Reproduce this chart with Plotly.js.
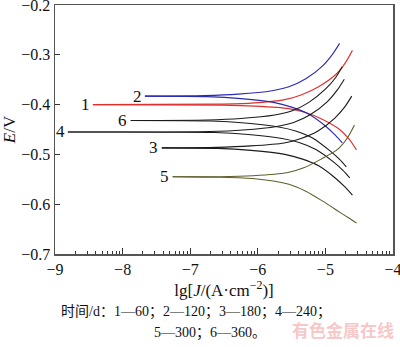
<!DOCTYPE html>
<html>
<head>
<meta charset="utf-8">
<script src="https://cdn.plot.ly/plotly-3.0.1.min.js"></script>
<style>html,body{margin:0;padding:0;background:#fff;}#chart{width:400px;height:347px;}</style>
</head>
<body>
<div id="chart"></div>
<script>
// Curve labels and colours
const curveNames = ['1', '2', '6', '4', '3', '5'];
const curveColors = ['#e0302c', '#2a2ab4', '#1a1a1a', '#1a1a1a', '#1a1a1a', '#5e5e2c'];

// Start of each flat line (lg J) and corrosion potential (E / V)
const startLg = [-8.44, -7.67, -7.88, -8.81, -7.42, -7.26];
const ecorr   = [-0.400, -0.383, -0.432, -0.455, -0.487, -0.545];

// Upper (anodic) branches: lg J and E, from the tip back toward the flat line
const upLg = [
  [-4.60, -4.70, -4.85, -5.10, -5.35, -5.60, -6.10, -6.60],
  [-4.79, -4.89, -5.04, -5.29, -5.54, -5.79, -6.29, -6.79],
  [-4.75, -4.85, -5.00, -5.25, -5.50, -5.75, -6.25, -6.75],
  [-4.72, -4.82, -4.97, -5.22, -5.47, -5.72, -6.22, -6.72],
  [-4.61, -4.71, -4.86, -5.11, -5.36, -5.61, -6.11, -6.61],
  [-4.57, -4.67, -4.82, -5.07, -5.32, -5.57, -6.07, -6.57]
];
const upE = [
  [-0.291, -0.315, -0.340, -0.364, -0.380, -0.390, -0.397, -0.399],
  [-0.277, -0.298, -0.322, -0.348, -0.364, -0.372, -0.379, -0.382],
  [-0.324, -0.346, -0.369, -0.396, -0.413, -0.421, -0.428, -0.431],
  [-0.349, -0.370, -0.394, -0.420, -0.436, -0.444, -0.451, -0.454],
  [-0.383, -0.404, -0.427, -0.453, -0.468, -0.477, -0.483, -0.486],
  [-0.441, -0.466, -0.490, -0.510, -0.527, -0.537, -0.543, -0.545]
];
// Lower (cathodic) branches
const lowLg = [
  [-4.54, -4.64, -4.79, -5.04, -5.29, -5.54, -6.04, -6.54],
  [-4.75, -4.85, -5.00, -5.25, -5.50, -5.75, -6.25, -6.75],
  [-4.69, -4.79, -4.94, -5.19, -5.44, -5.69, -6.19, -6.69],
  [-4.64, -4.74, -4.89, -5.14, -5.39, -5.64, -6.14, -6.64],
  [-4.60, -4.70, -4.85, -5.10, -5.35, -5.60, -6.10, -6.60],
  [-4.54, -4.64, -4.79, -5.04, -5.29, -5.54, -6.04, -6.54]
];
const lowE = [
  [-0.491, -0.471, -0.450, -0.430, -0.416, -0.408, -0.403, -0.401],
  [-0.477, -0.462, -0.443, -0.419, -0.405, -0.396, -0.388, -0.384],
  [-0.525, -0.510, -0.492, -0.467, -0.453, -0.445, -0.437, -0.433],
  [-0.547, -0.532, -0.514, -0.490, -0.476, -0.468, -0.460, -0.456],
  [-0.582, -0.567, -0.548, -0.523, -0.509, -0.500, -0.492, -0.488],
  [-0.638, -0.629, -0.616, -0.594, -0.574, -0.560, -0.549, -0.546]
];

// Axis ticks
const xTickLg = [-9, -8, -7, -6, -5, -4];
const xTickText = ['\u22129', '\u22128', '\u22127', '\u22126', '\u22125', '\u22124'];
const yTicks = [-0.2, -0.3, -0.4, -0.5, -0.6, -0.7];
const yTickText = ['\u22120.2', '\u22120.3', '\u22120.4', '\u22120.5', '\u22120.6', '\u22120.7'];

const captionLine1 = '时间/d：1—60；2—120；3—180；4—240；';
const captionLine2 = '5—300；6—360。';
const watermark = '有色金属在线';

const serif = 'Liberation Serif, Times New Roman, Noto Sans CJK SC, serif';
const toJ = v => Math.pow(10, v);

const traces = [];
const annotations = [];
for (let i = 0; i < curveNames.length; i++) {
  const ux = upLg[i].concat([startLg[i]]);
  const uy = upE[i].concat([ecorr[i]]);
  traces.push({
    x: ux.map(toJ), y: uy, mode: 'lines', type: 'scatter',
    line: {color: curveColors[i], width: 1.1, shape: 'spline', smoothing: 0.7},
    hoverinfo: 'skip', showlegend: false
  });
  const lx = lowLg[i].concat([startLg[i]]);
  const ly = lowE[i].concat([ecorr[i]]);
  traces.push({
    x: lx.map(toJ), y: ly, mode: 'lines', type: 'scatter',
    line: {color: curveColors[i], width: 1.1, shape: 'spline', smoothing: 0.7},
    hoverinfo: 'skip', showlegend: false
  });
  annotations.push({
    x: startLg[i] - 0.02, y: ecorr[i], xref: 'x', yref: 'y',
    text: curveNames[i], showarrow: false, xanchor: 'right', yanchor: 'middle',
    font: {family: serif, size: 17, color: '#111'}
  });
}

annotations.push({
  x: 0.416, y: -0.233, xref: 'paper', yref: 'paper', text: captionLine1,
  showarrow: false, xanchor: 'center', yanchor: 'middle',
  font: {family: serif, size: 14, color: '#111'}
});
annotations.push({
  x: 0.459, y: -0.317, xref: 'paper', yref: 'paper', text: captionLine2,
  showarrow: false, xanchor: 'center', yanchor: 'middle',
  font: {family: serif, size: 14, color: '#111'}
});
annotations.push({
  x: 0.852, y: -0.305, xref: 'paper', yref: 'paper', text: '<b>' + watermark + '</b>',
  showarrow: false, xanchor: 'center', yanchor: 'middle',
  font: {family: 'Noto Sans CJK SC, sans-serif', size: 17, color: '#f6c8c8'}
});

const layout = {
  width: 400, height: 347,
  margin: {l: 55, r: 7, t: 5, b: 93},
  paper_bgcolor: '#fff', plot_bgcolor: '#fff',
  font: {family: serif, size: 16, color: '#111'},
  xaxis: {
    type: 'log', range: [-9.0005, -3.9995],
    tickmode: 'array', tickvals: xTickLg.map(toJ), ticktext: xTickText,
    ticks: 'inside', ticklen: 6, tickcolor: '#333', tickwidth: 1,
    ticklabeloverflow: 'allow',
    minor: {ticks: 'inside', ticklen: 3, dtick: 'D1', tickcolor: '#333', tickwidth: 1, showgrid: false},
    showline: true, linecolor: '#555', linewidth: 1.5, mirror: true,
    showgrid: false, zeroline: false,
    tickfont: {family: serif, size: 16, color: '#111'},
    title: {text: 'lg[<i>J</i>/(A·cm<sup>−2</sup>)]', font: {family: serif, size: 17, color: '#111'}, standoff: 6}
  },
  yaxis: {
    range: [-0.7002, -0.1998],
    tickmode: 'array', tickvals: yTicks, ticktext: yTickText,
    ticks: 'inside', ticklen: 5, tickcolor: '#333',
    ticklabeloverflow: 'allow',
    showline: true, linecolor: '#555', linewidth: 1.5, mirror: true,
    showgrid: false, zeroline: false,
    tickfont: {family: serif, size: 16, color: '#111'},
    title: {text: '<i>E</i>/V', font: {family: serif, size: 17, color: '#111'}, standoff: 2}
  },
  annotations: annotations
};

Plotly.newPlot('chart', traces, layout, {staticPlot: true, displayModeBar: false});
</script>
</body>
</html>
